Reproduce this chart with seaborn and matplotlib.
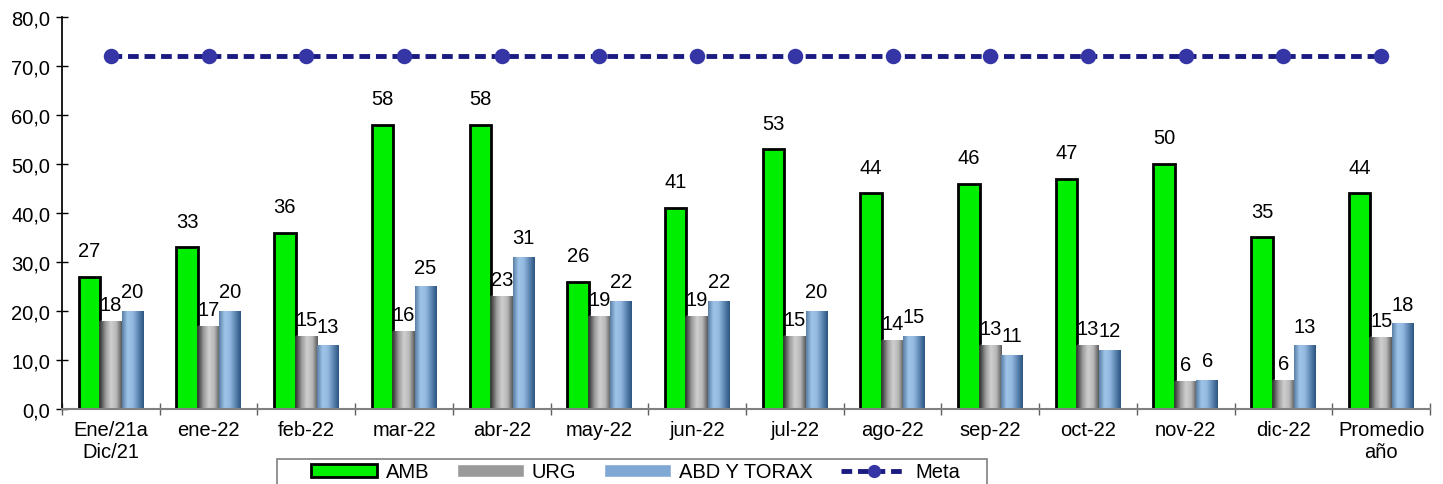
import numpy as np
import pandas as pd
import seaborn as sns
import matplotlib.pyplot as plt
from matplotlib.patches import Patch, Rectangle
from matplotlib.lines import Line2D
from matplotlib.ticker import FuncFormatter, MultipleLocator
from matplotlib.colors import LinearSegmentedColormap

# --- DATA ---
categories = ['Ene/21a\nDic/21', 'ene-22', 'feb-22', 'mar-22', 'abr-22', 'may-22', 'jun-22',
              'jul-22', 'ago-22', 'sep-22', 'oct-22', 'nov-22', 'dic-22', 'Promedio\naño']
amb = [27, 33, 36, 58, 58, 26, 41, 53, 44, 46, 47, 50, 35, 44]
urg = [18, 17, 15, 16, 23, 19, 19, 15, 14, 13, 13, 5.7, 6, 14.7]
abd = [20, 20, 13, 25, 31, 22, 22, 20, 15, 11, 12, 6, 13, 17.5]
meta = [72] * len(categories)
series = ['AMB', 'URG', 'ABD Y TORAX']

df = pd.DataFrame({
    'cat': categories * 3,
    'serie': np.repeat(series, len(categories)),
    'valor': amb + urg + abd,
})

sns.set_theme(style="white")
plt.rcParams['font.family'] = ['Liberation Sans', 'DejaVu Sans']
plt.rcParams['text.color'] = 'black'
plt.rcParams['xtick.color'] = 'black'
plt.rcParams['ytick.color'] = 'black'
FS = 14.5

fig = plt.figure(figsize=(14.43, 4.85), dpi=100)
ax = fig.add_axes([0.043, 0.1546, 0.948, 0.8084])

palette = {'AMB': '#00ee00', 'URG': '#a0a0a0', 'ABD Y TORAX': '#7fa8d4'}
sns.barplot(data=df, x='cat', y='valor', hue='serie', palette=palette,
            width=0.66, gap=0, saturation=1, legend=False, ax=ax)

# gradient fill for URG / ABD bars, black edge for AMB
gray_cmap = LinearSegmentedColormap.from_list('g', ['#3a3a3a', '#9a9a9a', '#cfcfcf', '#b8b8b8', '#5a5a5a'])
blue_cmap = LinearSegmentedColormap.from_list('b', ['#5a7fa6', '#9ec4ea', '#93b9e0', '#5d86b2', '#2c5580'])
grad = np.linspace(0, 1, 64).reshape(1, -1)
n = len(categories)
for i, p in enumerate(ax.patches[:3 * n]):
    s = i // n
    if s == 0:
        p.set_edgecolor('black')
        p.set_linewidth(2)
        continue
    cmap = gray_cmap if s == 1 else blue_cmap
    x0, y0 = p.get_x(), p.get_y()
    w, h = p.get_width(), p.get_height()
    im = ax.imshow(grad, cmap=cmap, aspect='auto', extent=[x0, x0 + w, y0, y0 + h],
                   zorder=p.get_zorder() + 0.1)
    im.set_clip_path(p)

# labels
offsets = [12, 5, 7]
for s, vals in enumerate([amb, urg, abd]):
    for i, v in enumerate(vals):
        xpos = i + (s - 1) * 0.22
        ax.annotate(f'{round(v):d}', (xpos, v), xytext=(0, offsets[s]), textcoords='offset points',
                    ha='center', va='bottom', fontsize=FS)

# meta line
sns.pointplot(x=categories, y=meta, ax=ax, color='#1a1a80', linestyle=(0, (2.2, 1.2)),
              markers='o', markersize=8.5, linewidth=3.5)
for ln in ax.lines:
    ln.set_markerfacecolor('#3535a5')
    ln.set_markeredgecolor('#3535a5')

ax.set_xlim(-0.5, n - 0.5)
ax.set_ylim(0, 80)
ax.set_xlabel('')
ax.set_ylabel('')
ax.yaxis.set_major_locator(MultipleLocator(10))
ax.yaxis.set_major_formatter(FuncFormatter(lambda v, _: f'{v:.1f}'.replace('.', ',')))
ax.tick_params(axis='y', left=True, direction='inout', length=9, width=1, color='black',
               labelsize=FS, pad=4)
ax.set_xticks(range(n))
ax.set_xticklabels(categories, fontsize=FS)
ax.set_xticks(np.arange(-0.5, n, 1), minor=True)
ax.tick_params(axis='x', which='major', bottom=False, length=0, pad=8)
ax.tick_params(axis='x', which='minor', bottom=True, direction='inout', length=9, width=1, color='#606060')
for side in ['top', 'right']:
    ax.spines[side].set_visible(False)
ax.spines['left'].set_color('black')
ax.spines['bottom'].set_color('#808080')
ax.spines['bottom'].set_linewidth(1.5)
ax.grid(False)

# legend: frame drawn separately so it can run past the bottom edge
fig.patches.append(Rectangle((277 / 1443, -0.05), 710 / 1443, 0.05 + 25 / 485,
                             transform=fig.transFigure, facecolor='white',
                             edgecolor='#808080', linewidth=1.2, zorder=0))
handles = [
    Patch(facecolor='#00ee00', edgecolor='black', linewidth=2),
    Patch(facecolor='#9a9a9a'),
    Patch(facecolor='#7fa8d4'),
    Line2D([0], [0], color='#1a1a80', linestyle=(0, (2.2, 1.2)), linewidth=3.5,
           marker='o', markersize=8.5, markerfacecolor='#3535a5', markeredgecolor='#3535a5'),
]
leg = fig.legend(handles, ['AMB', 'URG', 'ABD Y TORAX', 'Meta'], ncol=4,
                 loc='center left', bbox_to_anchor=(311 / 1443, 12 / 485, 649 / 1443, 0),
                 mode='expand', frameon=False, fontsize=FS, handlelength=3.3,
                 handleheight=0.6, borderpad=0, borderaxespad=0, columnspacing=1.5,
                 handletextpad=0.4)

plt.savefig('out.png', dpi=100)
